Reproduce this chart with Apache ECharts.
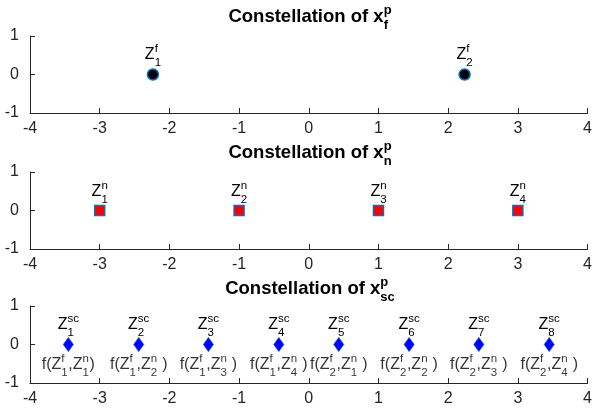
<!DOCTYPE html>
<html><head><meta charset="utf-8">
<script src="https://cdn.jsdelivr.net/npm/echarts@6/dist/echarts.min.js"></script>
<style>html,body{margin:0;padding:0;background:#fff}#c{width:595px;height:416px}</style>
</head><body><div id="c"></div>
<script>
// ---- data ----
const xTicks = [-4, -3, -2, -1, 0, 1, 2, 3, 4];
const yTicks = [-1, 0, 1];
const titleSubs = ['f', 'n', 'sc'];
const titleSup = 'p';

const fX = [-2.236, 2.236];
const fY = [0, 0];
const fSub = ['1', '2'];

const nX = [-3, -1, 1, 3];
const nY = [0, 0, 0, 0];
const nSub = ['1', '2', '3', '4'];

const scX = [-3.45, -2.44, -1.44, -0.43, 0.43, 1.44, 2.44, 3.45];
const scY = [0, 0, 0, 0, 0, 0, 0, 0];
const scSub = ['1', '2', '3', '4', '5', '6', '7', '8'];
const scPairF = ['1', '1', '1', '1', '2', '2', '2', '2'];
const scPairN = ['1', '2', '3', '4', '1', '2', '3', '4'];
const scPairSpace = ['', ' ', ' ', ' ', ' ', ' ', ' ', ' '];

// ---- layout ----
const FONT = 'Liberation Sans, Arial, Helvetica, sans-serif';
const AX = '#262626';
const gridTops = [36, 172, 306];
const gridH = 77;
const L = 30, R = 5;
const centerX = L + (595 - L - R) / 2;

const ZF = 16, SF = 11.5;
const H1 = 5, H2 = 6, H3 = 11;
const CLR0 = 'rgba(0,0,0,0)';
function zRich() {
  return {
    sp1: { fontSize: ZF, fontFamily: FONT, color: CLR0, lineHeight: H1, align: 'left' },
    sp3: { fontSize: ZF, fontFamily: FONT, color: CLR0, lineHeight: H3, align: 'left' },
    z: { fontSize: ZF, fontFamily: FONT, color: '#000', lineHeight: H2, align: 'left' },
    sup: { fontSize: SF, fontFamily: FONT, color: '#000', lineHeight: H1, align: 'left' },
    sub: { fontSize: SF, fontFamily: FONT, color: '#000', lineHeight: H3, align: 'left' },
    supw: { fontSize: SF, fontFamily: FONT, color: '#000', lineHeight: H1, align: 'left', width: 7 },
    subw: { fontSize: SF, fontFamily: FONT, color: '#000', lineHeight: H3, align: 'left', width: 7 },
    gap: { fontSize: SF, fontFamily: FONT, color: CLR0, lineHeight: H2, align: 'left', width: 7 }
  };
}
function zLabel(sup, sub) {
  return '{sp1|Z}{sup|' + sup + '}\n{z|Z}\n{sp3|Z}{sub|' + sub + '}';
}
function fLabel(a, b, sp) {
  return '{sp1|f(Z}{supw|f}{sp1|,Z}{supw|n}\n' +
         '{z|f(Z}{gap| }{z|,Z}{gap| }{z|' + sp + ')}\n' +
         '{sp3|f(Z}{subw|' + a + '}{sp3|,Z}{subw|' + b + '}';
}

const grids = gridTops.map(t => ({ left: L, right: R, top: t, height: gridH }));
const xAxes = gridTops.map((t, i) => ({
  type: 'value', gridIndex: i,
  min: xTicks[0], max: xTicks[xTicks.length - 1], interval: xTicks[1] - xTicks[0],
  axisLine: { show: true, onZero: false, lineStyle: { color: AX, width: 1 } },
  axisTick: { show: true, inside: true, length: 5, lineStyle: { color: AX, width: 1 } },
  axisLabel: { fontSize: 16, color: AX, fontFamily: FONT, margin: 8 },
  splitLine: { show: false }
}));
const yAxes = gridTops.map((t, i) => ({
  type: 'value', gridIndex: i,
  min: yTicks[0], max: yTicks[yTicks.length - 1], interval: yTicks[1] - yTicks[0],
  axisLine: { show: true, onZero: false, lineStyle: { color: AX, width: 1 } },
  axisTick: { show: true, inside: true, length: 5, lineStyle: { color: AX, width: 1 } },
  axisLabel: { fontSize: 16, color: AX, fontFamily: FONT, margin: 11 },
  splitLine: { show: false }
}));

const series = [
  {
    type: 'scatter', xAxisIndex: 0, yAxisIndex: 0,
    data: fX.map((x, i) => [x, fY[i]]),
    symbol: 'circle', symbolSize: 11,
    itemStyle: { color: '#000000', borderColor: '#0072BD', borderWidth: 1.5, opacity: 1 },
    label: { show: true, position: 'inside', offset: [0, -17], textBorderWidth: 0,
      formatter: p => zLabel('f', fSub[p.dataIndex]), rich: zRich() },
    emphasis: { disabled: true }, silent: true
  },
  {
    type: 'scatter', xAxisIndex: 1, yAxisIndex: 1,
    data: nX.map((x, i) => [x, nY[i]]),
    symbol: 'rect', symbolSize: 10,
    itemStyle: { color: '#FF0000', borderColor: '#0072BD', borderWidth: 1.5, opacity: 1 },
    label: { show: true, position: 'inside', offset: [0, -16], textBorderWidth: 0,
      formatter: p => zLabel('n', nSub[p.dataIndex]), rich: zRich() },
    emphasis: { disabled: true }, silent: true
  },
  {
    type: 'scatter', xAxisIndex: 2, yAxisIndex: 2,
    data: scX.map((x, i) => [x, scY[i]]),
    symbol: 'diamond', symbolSize: [10, 14],
    itemStyle: { color: CLR0, borderWidth: 0 },
    label: { show: true, position: 'inside', offset: [0, 23], textBorderWidth: 0,
      formatter: p => fLabel(scPairF[p.dataIndex], scPairN[p.dataIndex], scPairSpace[p.dataIndex]), rich: zRich() },
    emphasis: { disabled: true }, silent: true
  },
  {
    type: 'scatter', xAxisIndex: 2, yAxisIndex: 2,
    data: scX.map((x, i) => [x, scY[i]]),
    symbol: 'diamond', symbolSize: [10, 14],
    itemStyle: { color: '#0000FF', borderColor: '#0A4FD0', borderWidth: 0.8, opacity: 1 },
    label: { show: true, position: 'inside', offset: [0, -17], textBorderWidth: 0,
      formatter: p => zLabel('sc', scSub[p.dataIndex]), rich: zRich() },
    emphasis: { disabled: true }, silent: true
  }
];

const TF = 18.5, TSF = 13;
const TH1 = 6, TH2 = 6, TH3 = 12;
const titleCenters = [16.5, 152.5, 288.5];
const graphic = titleCenters.map((cy, i) => ({
  type: 'text', x: centerX, y: cy + (TH3 - TH1) / 2, silent: true,
  style: {
    text: '{sp1|Constellation of x}{sup|' + titleSup + '}\n{t|Constellation of x}\n{sp3|Constellation of x}{sub|' + titleSubs[i] + '}',
    align: 'center', verticalAlign: 'middle',
    rich: {
      sp1: { fontSize: TF, fontWeight: 'bold', fontFamily: FONT, fill: CLR0, color: CLR0, lineHeight: TH1, align: 'left' },
      sp3: { fontSize: TF, fontWeight: 'bold', fontFamily: FONT, fill: CLR0, color: CLR0, lineHeight: TH3, align: 'left' },
      t: { fontSize: TF, fontWeight: 'bold', fontFamily: FONT, fill: '#000', color: '#000', lineHeight: TH2, align: 'left' },
      sup: { fontSize: TSF, fontWeight: 'bold', fontFamily: FONT, fill: '#000', color: '#000', lineHeight: TH1, align: 'left' },
      sub: { fontSize: TSF, fontWeight: 'bold', fontFamily: FONT, fill: '#000', color: '#000', lineHeight: TH3, align: 'left' }
    }
  }
}));

const chart = echarts.init(document.getElementById('c'), null, { renderer: 'canvas' });
chart.setOption({
  animation: false,
  backgroundColor: '#fff',
  grid: grids, xAxis: xAxes, yAxis: yAxes, series: series, graphic: graphic
});
</script></body></html>
